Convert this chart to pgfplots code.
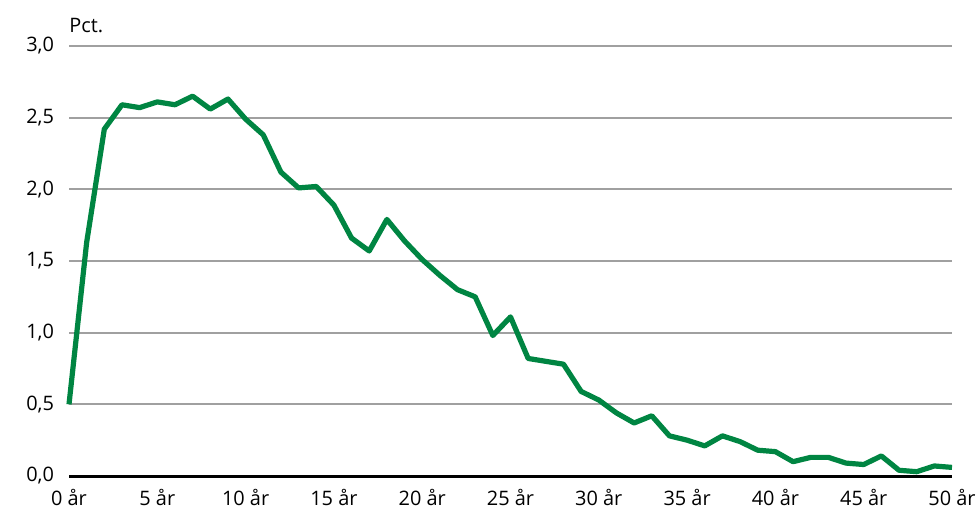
\documentclass[border=0pt]{standalone}
\usepackage{pgfplots}
\pgfplotsset{compat=1.18}
\usepackage{fontspec}
\setmainfont{Open Sans}
\definecolor{lgreen}{RGB}{0,133,66}
\definecolor{gridgray}{RGB}{160,160,160}
\begin{document}
\begin{tikzpicture}
\begin{axis}[
  scale only axis,
  width=441.5bp, height=215bp,
  xmin=0, xmax=50, ymin=0, ymax=3,
  axis line style={draw=none},
  xtick pos=left, ytick pos=left,
  ymajorgrids,
  grid style={gridgray, line width=1bp},
  ytick={0,0.5,...,3.0},
  xtick={0,5,...,50},
  xticklabels={0 år,5 år,10 år,15 år,20 år,25 år,30 år,35 år,40 år,45 år,50 år},
  major tick length=0pt,
  tick label style={font=\fontsize{10}{12}\selectfont},
  /pgf/number format/assume math mode=true,
  yticklabel style={/pgf/number format/fixed, /pgf/number format/fixed zerofill, /pgf/number format/precision=1, /pgf/number format/use comma, xshift=-4bp},
  xticklabel style={yshift=-3bp},
  clip=false,
]
\draw[black, line width=1.5bp] (rel axis cs:0,0) -- (rel axis cs:1,0);
\addplot[lgreen, line width=2.6bp, line join=round] coordinates {
(0,0.50) (1,1.63) (2,2.42) (3,2.59) (4,2.57) (5,2.61) (6,2.59) (7,2.65) (8,2.56) (9,2.63)
(10,2.49) (11,2.38) (12,2.12) (13,2.01) (14,2.02) (15,1.89) (16,1.66) (17,1.57) (18,1.79) (19,1.64)
(20,1.51) (21,1.40) (22,1.30) (23,1.25) (24,0.98) (25,1.11) (26,0.82) (27,0.80) (28,0.78) (29,0.59)
(30,0.53) (31,0.44) (32,0.37) (33,0.42) (34,0.28) (35,0.25) (36,0.21) (37,0.28) (38,0.24) (39,0.18)
(40,0.17) (41,0.10) (42,0.13) (43,0.13) (44,0.09) (45,0.08) (46,0.14) (47,0.04) (48,0.03) (49,0.07)
(50,0.06)
};
\node[anchor=base west, font=\fontsize{10}{12}\selectfont, inner sep=0pt] at ([xshift=0bp,yshift=7bp]rel axis cs:0,1) {Pct.};
\coordinate (SW) at (rel axis cs:0,0);
\coordinate (NE) at (rel axis cs:1,1);
\end{axis}
\pgfresetboundingbox
\path[use as bounding box] ([xshift=-34.5bp,yshift=-18bp]SW) rectangle ([xshift=12.5bp,yshift=23bp]NE);
\end{tikzpicture}
\end{document}
